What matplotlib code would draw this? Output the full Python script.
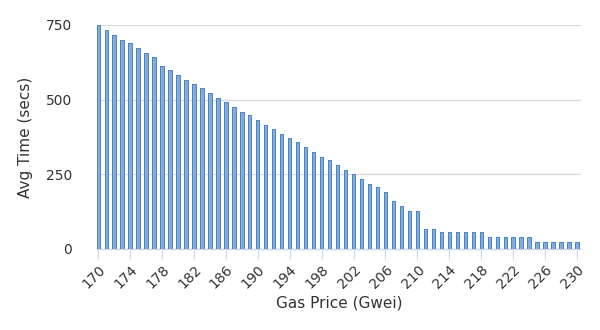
import matplotlib
matplotlib.use("Agg")
import matplotlib.pyplot as plt
import numpy as np

# Average confirmation time for each gas price
gas_price = list(range(170, 231))
avg_time = [
    750, 733, 717, 701, 690, 673, 656, 643, 612, 599,   # 170-179
    583, 566, 553, 538, 521, 506, 492, 475, 460, 449,   # 180-189
    432, 415, 402, 386, 370, 359, 342, 326, 308, 298,   # 190-199
    281, 265, 251, 234, 217, 206, 190, 160, 144, 128,   # 200-209
    128, 68, 68, 57, 57, 57, 57, 57, 57, 40,            # 210-219
    40, 40, 40, 40, 40, 25, 25, 25, 25, 25,             # 220-229
    25,                                                 # 230
]
x_ticks = list(range(170, 231, 4))
y_ticks = [0, 250, 500, 750]

plt.rcParams['font.family'] = ['DejaVu Sans']

fig = plt.figure(figsize=(6.0, 3.3), dpi=100)
ax = fig.add_axes([97 / 600, 1 - 249 / 330, (580 - 96) / 600, (249 - 25) / 330])

ax.bar(gas_price, avg_time, width=0.42, color='#80aee0',
       edgecolor='#4a80c2', linewidth=0.7, zorder=3)

ax.set_xlim(169.85, 230.5)
ax.set_ylim(0, 750)

ax.set_yticks(y_ticks)
ax.set_yticklabels([str(v) for v in y_ticks], fontsize=10, color='#333333')
ax.tick_params(axis='y', length=0, pad=18)
ax.yaxis.grid(True, color='#d9d9d9', linewidth=0.9, zorder=0)

ax.set_xticks(x_ticks)
ax.set_xticklabels([str(v) for v in x_ticks], fontsize=10, color='#333333',
                   rotation=45, ha='right', rotation_mode='anchor')
ax.tick_params(axis='x', length=7, width=0.8, color='#ccd6eb', pad=3)

for side in ('top', 'right', 'left'):
    ax.spines[side].set_visible(False)
ax.spines['bottom'].set_color('#ccd6eb')
ax.spines['bottom'].set_linewidth(0.9)

ax.set_ylabel('Avg Time (secs)', fontsize=11, color='#333333', va='center')
ax.yaxis.set_label_coords(-0.147, 0.5)
ax.set_xlabel('Gas Price (Gwei)', fontsize=11, color='#333333', va='center')
ax.xaxis.set_label_coords(0.5, -0.241)

fig.savefig('out.png', dpi=100)
